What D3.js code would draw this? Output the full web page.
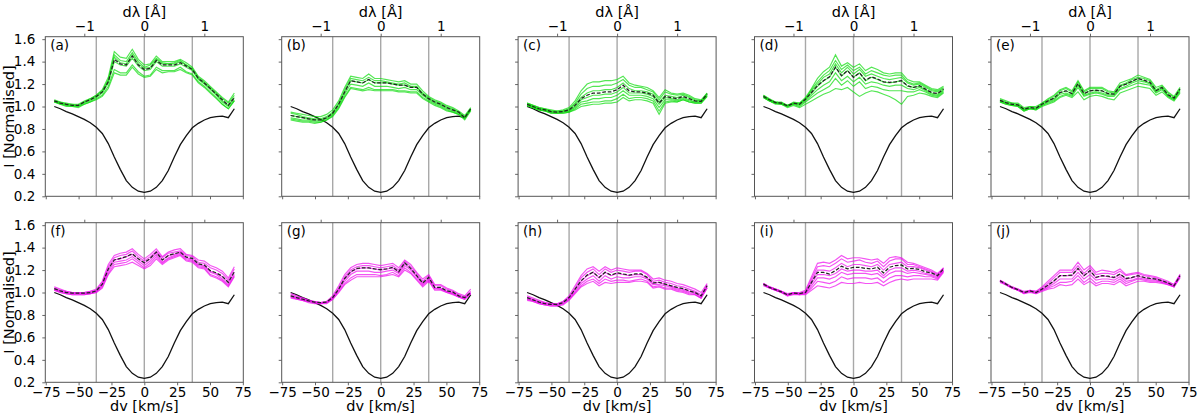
<!DOCTYPE html>
<html>
<head>
<meta charset="utf-8">
<script src="https://cdn.jsdelivr.net/npm/d3@7"></script>
<style>
  body { margin: 0; background: #fff; }
  svg text { font-family: "DejaVu Sans", sans-serif; fill: #000; }
</style>
</head>
<body>
<svg id="chart" width="1200" height="419"></svg>
<script>
// wavelength offsets of the sampled points [A] and conversion to km/s (H-alpha)
var dlam = [-1.5,-1.4,-1.3,-1.2,-1.1,-1.0,-0.9,-0.8,-0.7,-0.6,-0.5,-0.4,-0.3,-0.2,-0.1,0,
            0.1,0.2,0.3,0.4,0.5,0.6,0.7,0.8,0.9,1.0,1.1,1.2,1.3,1.4,1.5];
var kmsPerA = 45.68;
var markLines = [-0.8, 0, 0.8];   // vertical reference lines [A]

// quiet-sun reference profile (black)
var refProfile = [1.00,0.98,0.955,0.935,0.91,0.885,0.855,0.815,0.76,0.67,0.55,0.44,0.34,0.28,0.245,0.235,
                  0.245,0.28,0.34,0.43,0.55,0.66,0.74,0.81,0.85,0.88,0.90,0.91,0.915,0.90,0.98];

// (a)
var meanA = [1.05,1.03,1.02,1.01,1.01,1.04,1.06,1.09,1.13,1.22,1.42,1.38,1.37,1.45,1.37,1.33,1.34,1.41,1.37,1.37,1.37,1.39,1.36,1.33,1.25,1.21,1.16,1.11,1.06,1.01,1.08];
var membersA = [
  [1.06,1.04,1.03,1.02,1.02,1.05,1.07,1.10,1.15,1.26,1.49,1.44,1.43,1.51,1.42,1.37,1.38,1.45,1.40,1.40,1.40,1.42,1.39,1.35,1.27,1.23,1.18,1.13,1.08,1.04,1.12],
  [1.05,1.04,1.02,1.02,1.01,1.04,1.07,1.10,1.14,1.24,1.46,1.41,1.40,1.48,1.40,1.35,1.37,1.43,1.39,1.38,1.39,1.41,1.37,1.34,1.26,1.22,1.17,1.12,1.07,1.03,1.10],
  [1.05,1.03,1.02,1.01,1.01,1.04,1.06,1.09,1.13,1.23,1.44,1.39,1.38,1.46,1.38,1.34,1.35,1.42,1.38,1.38,1.38,1.40,1.37,1.33,1.25,1.21,1.16,1.11,1.05,1.01,1.08],
  [1.04,1.03,1.01,1.01,1.00,1.03,1.05,1.08,1.12,1.21,1.40,1.37,1.36,1.43,1.36,1.32,1.33,1.40,1.36,1.36,1.36,1.38,1.35,1.32,1.24,1.20,1.15,1.10,1.04,1.00,1.06],
  [1.04,1.02,1.01,1.00,1.00,1.02,1.04,1.07,1.10,1.18,1.33,1.30,1.30,1.37,1.31,1.27,1.28,1.35,1.32,1.32,1.32,1.35,1.31,1.29,1.22,1.18,1.13,1.08,1.02,0.98,1.05],
  [1.04,1.02,1.00,1.00,0.99,1.02,1.04,1.06,1.09,1.16,1.30,1.28,1.28,1.35,1.29,1.26,1.27,1.33,1.30,1.31,1.31,1.33,1.30,1.28,1.21,1.17,1.12,1.07,1.02,0.98,1.05]
];

// (b)
var meanB = [0.92,0.91,0.90,0.89,0.88,0.88,0.90,0.94,1.02,1.13,1.23,1.22,1.21,1.24,1.21,1.21,1.21,1.20,1.19,1.19,1.17,1.17,1.11,1.07,1.04,1.02,0.99,0.97,0.95,0.90,0.98];
var membersB = [
  [0.95,0.94,0.93,0.92,0.91,0.91,0.93,0.97,1.05,1.17,1.27,1.26,1.25,1.29,1.25,1.25,1.24,1.23,1.22,1.23,1.20,1.20,1.14,1.09,1.06,1.04,1.01,0.99,0.96,0.92,0.99],
  [0.94,0.93,0.91,0.90,0.89,0.89,0.91,0.95,1.03,1.15,1.25,1.24,1.23,1.26,1.23,1.23,1.22,1.21,1.20,1.21,1.18,1.18,1.12,1.08,1.05,1.03,1.00,0.98,0.95,0.91,0.98],
  [0.92,0.91,0.90,0.89,0.88,0.88,0.90,0.94,1.02,1.13,1.23,1.22,1.21,1.24,1.21,1.21,1.21,1.20,1.19,1.19,1.17,1.17,1.11,1.07,1.04,1.02,0.99,0.97,0.95,0.90,0.98],
  [0.90,0.89,0.88,0.88,0.87,0.87,0.89,0.93,1.00,1.11,1.20,1.19,1.18,1.21,1.18,1.18,1.18,1.17,1.16,1.17,1.15,1.15,1.10,1.06,1.03,1.01,0.98,0.96,0.94,0.90,0.97],
  [0.89,0.88,0.87,0.87,0.86,0.86,0.88,0.92,0.99,1.09,1.17,1.16,1.15,1.17,1.15,1.15,1.15,1.15,1.14,1.14,1.13,1.13,1.08,1.05,1.02,1.00,0.97,0.95,0.93,0.89,0.97],
  [0.88,0.87,0.86,0.86,0.85,0.86,0.88,0.91,0.98,1.08,1.16,1.15,1.14,1.15,1.14,1.14,1.14,1.14,1.13,1.13,1.12,1.12,1.07,1.04,1.01,0.99,0.96,0.95,0.93,0.88,0.96]
];

// (c)
var meanC = [1.02,1.00,0.98,0.97,0.955,0.95,0.955,0.97,1.01,1.07,1.10,1.12,1.12,1.13,1.13,1.15,1.19,1.14,1.13,1.13,1.12,1.10,1.03,1.09,1.08,1.07,1.09,1.07,1.05,1.045,1.11];
var membersC = [
  [1.03,1.01,0.99,0.98,0.97,0.96,0.97,0.99,1.05,1.14,1.20,1.22,1.22,1.23,1.23,1.24,1.27,1.21,1.19,1.18,1.17,1.14,1.08,1.15,1.12,1.11,1.12,1.10,1.07,1.06,1.12],
  [1.03,1.01,0.99,0.98,0.96,0.96,0.96,0.98,1.03,1.11,1.16,1.18,1.18,1.19,1.19,1.21,1.24,1.19,1.17,1.17,1.15,1.13,1.06,1.13,1.11,1.10,1.11,1.09,1.06,1.05,1.12],
  [1.02,1.00,0.98,0.97,0.96,0.95,0.96,0.97,1.02,1.08,1.12,1.14,1.14,1.15,1.15,1.17,1.21,1.16,1.14,1.14,1.13,1.11,1.04,1.10,1.09,1.08,1.10,1.08,1.05,1.05,1.11],
  [1.02,1.00,0.98,0.97,0.95,0.95,0.95,0.96,1.00,1.06,1.08,1.10,1.10,1.11,1.11,1.13,1.17,1.12,1.12,1.12,1.11,1.09,1.02,1.08,1.07,1.06,1.08,1.06,1.04,1.04,1.10],
  [1.01,0.99,0.97,0.96,0.95,0.94,0.95,0.96,0.99,1.04,1.05,1.07,1.07,1.08,1.08,1.10,1.14,1.10,1.10,1.10,1.09,1.07,0.99,1.06,1.06,1.05,1.07,1.05,1.04,1.04,1.10],
  [1.01,0.99,0.97,0.96,0.94,0.94,0.94,0.95,0.98,1.02,1.03,1.04,1.04,1.05,1.05,1.07,1.11,1.07,1.08,1.08,1.07,1.05,0.96,1.04,1.05,1.04,1.06,1.04,1.03,1.03,1.09],
  [1.01,0.99,0.97,0.96,0.94,0.94,0.94,0.95,0.97,1.00,1.01,1.02,1.02,1.03,1.03,1.04,1.08,1.05,1.06,1.06,1.05,1.03,0.93,1.03,1.04,1.04,1.06,1.04,1.03,1.03,1.09]
];

// (d)
var meanD = [1.09,1.06,1.035,1.03,1.005,1.03,1.02,1.065,1.125,1.185,1.23,1.265,1.35,1.275,1.32,1.26,1.30,1.235,1.265,1.245,1.22,1.215,1.22,1.23,1.185,1.17,1.185,1.155,1.125,1.115,1.155];
var membersD = [
  [1.10,1.07,1.04,1.04,1.01,1.04,1.03,1.08,1.16,1.25,1.31,1.35,1.46,1.36,1.39,1.35,1.38,1.32,1.35,1.33,1.30,1.29,1.30,1.30,1.24,1.22,1.22,1.19,1.16,1.15,1.18],
  [1.10,1.06,1.04,1.03,1.01,1.03,1.03,1.07,1.15,1.22,1.28,1.32,1.41,1.33,1.37,1.32,1.35,1.29,1.32,1.30,1.28,1.27,1.28,1.28,1.22,1.20,1.21,1.18,1.15,1.14,1.17],
  [1.09,1.06,1.04,1.03,1.01,1.03,1.02,1.07,1.14,1.20,1.26,1.29,1.38,1.30,1.35,1.29,1.33,1.27,1.29,1.27,1.25,1.24,1.25,1.26,1.21,1.19,1.20,1.17,1.14,1.13,1.16],
  [1.09,1.06,1.03,1.03,1.00,1.03,1.02,1.06,1.12,1.18,1.23,1.26,1.35,1.27,1.32,1.26,1.30,1.23,1.26,1.24,1.22,1.21,1.22,1.23,1.18,1.17,1.18,1.15,1.12,1.11,1.15],
  [1.08,1.05,1.03,1.02,1.00,1.02,1.01,1.05,1.10,1.15,1.19,1.22,1.30,1.23,1.27,1.22,1.26,1.20,1.22,1.21,1.19,1.18,1.19,1.19,1.16,1.15,1.17,1.14,1.11,1.10,1.14],
  [1.08,1.05,1.03,1.02,1.00,1.02,1.00,1.04,1.08,1.12,1.15,1.18,1.25,1.19,1.23,1.18,1.22,1.16,1.18,1.17,1.15,1.14,1.14,1.14,1.13,1.13,1.15,1.13,1.10,1.09,1.13],
  [1.08,1.05,1.02,1.02,0.99,1.01,0.99,1.02,1.05,1.08,1.11,1.13,1.16,1.15,1.17,1.13,1.09,1.12,1.14,1.13,1.11,1.09,1.06,1.02,1.09,1.10,1.12,1.11,1.09,1.08,1.12]
];

// (e)
var meanE = [1.055,1.035,1.02,1.015,0.975,0.99,0.985,1.02,1.05,1.075,1.125,1.14,1.115,1.205,1.115,1.14,1.145,1.14,1.115,1.11,1.18,1.20,1.225,1.25,1.235,1.215,1.14,1.17,1.105,1.075,1.155];
var membersE = [
  [1.07,1.05,1.03,1.03,0.99,1.00,1.00,1.03,1.07,1.10,1.15,1.17,1.14,1.23,1.14,1.17,1.17,1.17,1.14,1.13,1.21,1.23,1.25,1.28,1.26,1.24,1.17,1.19,1.13,1.09,1.17],
  [1.06,1.04,1.03,1.02,0.98,1.00,0.99,1.03,1.06,1.09,1.14,1.16,1.13,1.22,1.13,1.16,1.16,1.16,1.13,1.12,1.19,1.21,1.24,1.26,1.25,1.23,1.15,1.18,1.12,1.08,1.16],
  [1.05,1.03,1.02,1.01,0.97,0.99,0.98,1.02,1.05,1.07,1.12,1.14,1.11,1.20,1.11,1.14,1.14,1.14,1.11,1.11,1.18,1.20,1.22,1.25,1.23,1.21,1.14,1.17,1.10,1.07,1.15],
  [1.05,1.03,1.01,1.01,0.97,0.98,0.98,1.01,1.04,1.06,1.11,1.12,1.10,1.19,1.10,1.12,1.13,1.12,1.10,1.10,1.16,1.18,1.21,1.23,1.22,1.20,1.13,1.16,1.09,1.06,1.14],
  [1.04,1.02,1.01,1.00,0.96,0.98,0.97,1.01,1.03,1.05,1.09,1.11,1.09,1.17,1.09,1.11,1.12,1.11,1.09,1.09,1.15,1.17,1.19,1.21,1.20,1.19,1.12,1.15,1.09,1.06,1.13],
  [1.04,1.02,1.01,1.00,0.96,0.98,0.97,1.00,1.02,1.04,1.08,1.10,1.08,1.13,1.06,1.09,1.10,1.09,1.07,1.06,1.12,1.14,1.16,1.18,1.17,1.16,1.10,1.13,1.08,1.05,1.12]
];

// (f)
var meanF = [1.035,1.015,1.00,0.995,0.995,0.995,1.00,1.015,1.075,1.21,1.29,1.305,1.32,1.345,1.30,1.265,1.305,1.36,1.29,1.33,1.345,1.36,1.315,1.305,1.255,1.245,1.195,1.175,1.145,1.09,1.185];
var membersF = [
  [1.05,1.03,1.01,1.00,1.00,1.00,1.01,1.03,1.10,1.25,1.33,1.35,1.36,1.39,1.34,1.30,1.34,1.39,1.32,1.36,1.38,1.39,1.34,1.33,1.29,1.28,1.24,1.22,1.19,1.13,1.23],
  [1.04,1.02,1.01,1.00,1.00,1.00,1.01,1.02,1.09,1.23,1.31,1.33,1.34,1.37,1.32,1.28,1.32,1.37,1.31,1.35,1.36,1.37,1.33,1.32,1.27,1.26,1.22,1.20,1.17,1.11,1.21],
  [1.03,1.01,1.00,0.99,0.99,0.99,1.00,1.01,1.07,1.21,1.29,1.30,1.32,1.34,1.30,1.26,1.30,1.36,1.29,1.33,1.34,1.36,1.31,1.30,1.25,1.24,1.19,1.17,1.14,1.09,1.18],
  [1.03,1.01,1.00,0.99,0.99,0.99,0.99,1.01,1.06,1.19,1.27,1.28,1.29,1.32,1.28,1.24,1.28,1.34,1.27,1.31,1.33,1.35,1.30,1.29,1.24,1.23,1.18,1.16,1.12,1.07,1.16],
  [1.02,1.00,0.99,0.98,0.98,0.98,0.99,1.00,1.05,1.17,1.25,1.26,1.27,1.30,1.26,1.22,1.26,1.32,1.26,1.30,1.32,1.34,1.29,1.28,1.23,1.22,1.16,1.14,1.11,1.06,1.15],
  [1.02,1.00,0.99,0.98,0.98,0.98,0.99,1.00,1.04,1.16,1.23,1.24,1.25,1.27,1.24,1.21,1.24,1.30,1.25,1.29,1.31,1.33,1.28,1.27,1.22,1.21,1.15,1.13,1.10,1.05,1.14]
];

// (g)
var meanG = [0.97,0.955,0.94,0.925,0.915,0.91,0.915,0.955,1.03,1.125,1.185,1.215,1.22,1.22,1.21,1.205,1.21,1.225,1.185,1.265,1.215,1.15,1.085,1.135,1.045,1.045,1.015,1.005,0.97,0.955,1.00];
var membersG = [
  [0.99,0.97,0.95,0.93,0.92,0.91,0.92,0.97,1.06,1.16,1.22,1.25,1.26,1.26,1.25,1.24,1.25,1.26,1.22,1.29,1.25,1.18,1.12,1.16,1.07,1.07,1.04,1.02,0.99,0.97,1.03],
  [0.98,0.96,0.95,0.93,0.92,0.91,0.92,0.96,1.04,1.14,1.20,1.23,1.24,1.24,1.23,1.22,1.23,1.24,1.20,1.28,1.23,1.17,1.10,1.15,1.06,1.06,1.03,1.01,0.98,0.96,1.01],
  [0.97,0.95,0.94,0.92,0.91,0.91,0.91,0.95,1.03,1.12,1.18,1.21,1.22,1.22,1.21,1.20,1.21,1.22,1.18,1.26,1.21,1.15,1.08,1.13,1.04,1.04,1.01,1.00,0.97,0.95,1.00],
  [0.96,0.95,0.93,0.92,0.91,0.90,0.91,0.95,1.02,1.10,1.16,1.19,1.19,1.19,1.18,1.18,1.19,1.20,1.17,1.24,1.20,1.14,1.07,1.12,1.04,1.03,1.01,0.99,0.96,0.95,0.99],
  [0.96,0.94,0.93,0.92,0.91,0.90,0.91,0.94,1.01,1.08,1.13,1.16,1.16,1.16,1.16,1.15,1.16,1.18,1.15,1.22,1.18,1.12,1.06,1.11,1.03,1.03,1.00,0.99,0.96,0.94,0.99],
  [0.95,0.94,0.93,0.91,0.90,0.90,0.90,0.94,1.00,1.07,1.11,1.14,1.14,1.14,1.14,1.14,1.15,1.16,1.14,1.20,1.17,1.11,1.05,1.10,1.02,1.02,1.00,0.98,0.96,0.94,0.99]
];

// (h)
var meanH = [0.955,0.935,0.915,0.90,0.895,0.895,0.91,0.955,1.03,1.105,1.155,1.18,1.135,1.18,1.155,1.175,1.165,1.155,1.165,1.165,1.135,1.085,1.09,1.075,1.06,1.045,1.035,1.015,1.00,0.97,1.06];
var membersH = [
  [0.97,0.95,0.93,0.91,0.90,0.90,0.92,0.97,1.06,1.15,1.21,1.23,1.19,1.23,1.20,1.22,1.21,1.20,1.20,1.20,1.17,1.12,1.13,1.11,1.10,1.08,1.07,1.05,1.03,1.00,1.08],
  [0.96,0.94,0.92,0.91,0.90,0.90,0.92,0.96,1.04,1.13,1.18,1.21,1.16,1.21,1.18,1.20,1.19,1.18,1.19,1.19,1.16,1.10,1.11,1.09,1.08,1.06,1.05,1.03,1.01,0.98,1.07],
  [0.95,0.93,0.91,0.90,0.89,0.89,0.91,0.95,1.03,1.10,1.15,1.18,1.13,1.18,1.15,1.17,1.16,1.15,1.16,1.16,1.13,1.08,1.09,1.07,1.06,1.04,1.03,1.01,1.00,0.97,1.06],
  [0.94,0.93,0.91,0.90,0.89,0.89,0.90,0.94,1.01,1.08,1.12,1.15,1.10,1.15,1.12,1.14,1.13,1.13,1.14,1.14,1.12,1.07,1.07,1.06,1.05,1.03,1.02,1.00,0.99,0.96,1.05],
  [0.94,0.92,0.90,0.89,0.88,0.88,0.90,0.94,1.00,1.06,1.10,1.12,1.08,1.12,1.10,1.11,1.11,1.10,1.11,1.12,1.10,1.05,1.06,1.04,1.04,1.02,1.01,0.99,0.98,0.95,1.04],
  [0.93,0.92,0.90,0.89,0.88,0.88,0.89,0.93,0.99,1.05,1.08,1.10,1.06,1.09,1.08,1.09,1.09,1.09,1.10,1.10,1.09,1.04,1.05,1.03,1.03,1.01,1.00,0.98,0.98,0.95,1.04]
];

// (i)
var meanI = [1.075,1.045,1.025,1.005,0.98,0.995,0.99,1.00,1.09,1.18,1.18,1.165,1.195,1.235,1.21,1.225,1.225,1.215,1.21,1.225,1.175,1.225,1.24,1.245,1.21,1.215,1.205,1.185,1.175,1.15,1.21];
var membersI = [
  [1.08,1.05,1.03,1.01,0.99,1.00,1.00,1.02,1.14,1.26,1.27,1.26,1.29,1.33,1.30,1.31,1.31,1.30,1.29,1.30,1.26,1.31,1.32,1.31,1.27,1.26,1.24,1.22,1.20,1.17,1.22],
  [1.08,1.05,1.03,1.01,0.98,1.00,0.99,1.01,1.12,1.23,1.24,1.23,1.26,1.30,1.27,1.28,1.29,1.27,1.26,1.28,1.23,1.28,1.30,1.30,1.25,1.25,1.23,1.21,1.19,1.16,1.22],
  [1.08,1.05,1.03,1.01,0.98,1.00,0.99,1.00,1.10,1.20,1.20,1.19,1.22,1.26,1.23,1.25,1.25,1.24,1.23,1.25,1.20,1.25,1.26,1.27,1.23,1.23,1.22,1.20,1.18,1.15,1.21],
  [1.07,1.04,1.02,1.00,0.98,0.99,0.99,1.00,1.08,1.16,1.16,1.15,1.17,1.21,1.19,1.20,1.20,1.19,1.19,1.20,1.15,1.20,1.22,1.22,1.19,1.20,1.19,1.17,1.16,1.14,1.20],
  [1.07,1.04,1.02,1.00,0.98,0.99,0.98,0.99,1.06,1.13,1.13,1.12,1.14,1.18,1.16,1.17,1.17,1.17,1.16,1.17,1.13,1.17,1.19,1.19,1.17,1.18,1.17,1.16,1.15,1.13,1.19],
  [1.07,1.04,1.02,1.00,0.97,0.99,0.98,0.99,1.04,1.10,1.09,1.08,1.10,1.14,1.12,1.13,1.13,1.13,1.12,1.13,1.09,1.13,1.15,1.15,1.14,1.15,1.15,1.14,1.14,1.12,1.19],
  [1.06,1.04,1.02,1.00,0.97,0.98,0.98,0.98,1.02,1.06,1.05,1.04,1.06,1.09,1.08,1.08,1.09,1.08,1.08,1.09,1.06,1.09,1.11,1.12,1.11,1.12,1.12,1.12,1.12,1.11,1.18]
];

// (j)
var meanJ = [1.105,1.075,1.045,1.025,1.00,1.015,1.00,1.03,1.065,1.105,1.15,1.15,1.155,1.215,1.15,1.195,1.135,1.15,1.145,1.135,1.165,1.125,1.135,1.15,1.135,1.125,1.12,1.105,1.085,1.06,1.15];
var membersJ = [
  [1.11,1.08,1.05,1.03,1.01,1.02,1.01,1.05,1.10,1.15,1.20,1.20,1.20,1.27,1.20,1.24,1.18,1.20,1.19,1.18,1.21,1.16,1.17,1.18,1.16,1.15,1.14,1.12,1.10,1.07,1.16],
  [1.11,1.08,1.05,1.03,1.00,1.02,1.01,1.04,1.08,1.13,1.18,1.18,1.18,1.24,1.17,1.22,1.16,1.17,1.17,1.16,1.19,1.15,1.16,1.17,1.15,1.14,1.13,1.11,1.09,1.07,1.16],
  [1.10,1.07,1.04,1.02,1.00,1.01,1.00,1.03,1.06,1.10,1.15,1.15,1.15,1.21,1.15,1.19,1.13,1.15,1.14,1.13,1.16,1.12,1.13,1.15,1.13,1.12,1.12,1.10,1.08,1.06,1.15],
  [1.10,1.07,1.04,1.02,1.00,1.01,1.00,1.02,1.05,1.08,1.12,1.12,1.12,1.18,1.12,1.16,1.11,1.12,1.12,1.11,1.14,1.10,1.11,1.13,1.12,1.11,1.11,1.09,1.08,1.05,1.14],
  [1.10,1.07,1.04,1.02,0.99,1.01,0.99,1.02,1.04,1.06,1.09,1.09,1.10,1.15,1.09,1.13,1.08,1.10,1.10,1.09,1.12,1.08,1.10,1.12,1.11,1.10,1.10,1.09,1.07,1.05,1.14],
  [1.09,1.07,1.04,1.02,0.99,1.00,0.99,1.01,1.03,1.04,1.07,1.06,1.07,1.12,1.07,1.10,1.06,1.08,1.08,1.07,1.10,1.06,1.08,1.10,1.10,1.09,1.09,1.08,1.07,1.05,1.13]
];

var labels = ["(a)","(b)","(c)","(d)","(e)","(f)","(g)","(h)","(i)","(j)"];
var xTicks = [-75,-50,-25,0,25,50,75];
var yTicks = [0.2,0.4,0.6,0.8,1.0,1.2,1.4,1.6];
var topTicks = [-1,0,1];

var green = "#11dd11", magenta = "#ee11ee";

// panel table built from the arrays above
var panels = [
  {mean: meanA, members: membersA, color: green},
  {mean: meanB, members: membersB, color: green},
  {mean: meanC, members: membersC, color: green},
  {mean: meanD, members: membersD, color: green},
  {mean: meanE, members: membersE, color: green},
  {mean: meanF, members: membersF, color: magenta},
  {mean: meanG, members: membersG, color: magenta},
  {mean: meanH, members: membersH, color: magenta},
  {mean: meanI, members: membersI, color: magenta},
  {mean: meanJ, members: membersJ, color: magenta}
];

var dv = dlam.map(function(d) { return d * kmsPerA; });

var width = 198, height = 159.6;
var lefts = [45.3, 281.7, 518.1, 754.5, 991];
var tops = [36.7, 222.7];
var xMax = 75.35;   // axis half-range in km/s

var x = d3.scaleLinear().domain([-xMax, xMax]).range([0, width]);
var xTop = d3.scaleLinear().domain([-xMax / kmsPerA, xMax / kmsPerA]).range([0, width]);
var y = d3.scaleLinear().domain([0.2, 1.622]).range([height, 0]);

var line = d3.line()
  .x(function(d) { return x(d[0]); })
  .y(function(d) { return y(d[1]); });

function pairs(vals) {
  return vals.map(function(v, i) { return [dv[i], v]; });
}

var svg = d3.select("#chart");

panels.forEach(function(p, k) {
  var row = Math.floor(k / 5), col = k % 5;
  var g = svg.append("g")
    .attr("transform", "translate(" + lefts[col] + "," + tops[row] + ")");

  // vertical reference lines
  g.selectAll(".vline")
    .data(markLines)
    .enter().append("line")
    .attr("class", "vline")
    .attr("x1", function(d) { return x(d * kmsPerA); })
    .attr("x2", function(d) { return x(d * kmsPerA); })
    .attr("y1", 0)
    .attr("y2", height)
    .style("stroke", "#a8a8a8")
    .style("stroke-width", 1.4);

  // reference profile
  g.append("path")
    .attr("d", line(pairs(refProfile)))
    .style("fill", "none")
    .style("stroke", "#111")
    .style("stroke-width", 1.3);

  // individual profiles
  g.selectAll(".member")
    .data(p.members)
    .enter().append("path")
    .attr("class", "member")
    .attr("d", function(d) { return line(pairs(d)); })
    .style("fill", "none")
    .style("stroke", p.color)
    .style("stroke-opacity", 0.72)
    .style("stroke-width", 1.15);

  // mean profile
  g.append("path")
    .attr("d", line(pairs(p.mean)))
    .style("fill", "none")
    .style("stroke", "#222")
    .style("stroke-width", 1.25)
    .style("stroke-dasharray", "3.7,1.8");

  // bottom axis
  var xAxis = d3.axisBottom(x).tickValues(xTicks).tickSize(3).tickSizeOuter(0).tickPadding(2.5)
    .tickFormat(row === 1 ? d3.format("d") : "");
  var gx = g.append("g").attr("transform", "translate(0," + height + ")").call(xAxis);

  // top axis in wavelength
  var topAxis = d3.axisTop(xTop).tickValues(topTicks).tickSize(3).tickSizeOuter(0).tickPadding(2.5)
    .tickFormat(row === 0 ? d3.format("d") : "");
  var gt = g.append("g").call(topAxis);

  // left axis
  var yAxis = d3.axisLeft(y).tickValues(yTicks).tickSize(3).tickSizeOuter(0).tickPadding(7)
    .tickFormat(col === 0 ? d3.format(".1f") : "");
  var gy = g.append("g").call(yAxis);

  [gx, gt, gy].forEach(function(a) {
    a.select(".domain").remove();
    a.attr("font-family", null).attr("font-size", null);
    a.selectAll("line").style("stroke", "#555").style("stroke-width", 0.9);
    a.selectAll("text").style("font-size", "13.5px");
  });

  // frame
  g.append("rect")
    .attr("width", width)
    .attr("height", height)
    .style("fill", "none")
    .style("stroke", "#555")
    .style("stroke-width", 1);

  // panel label
  g.append("text")
    .attr("x", 5)
    .attr("y", 13)
    .style("font-size", "13.5px")
    .text(labels[k]);

  if (row === 0) {
    g.append("text")
      .attr("x", width / 2)
      .attr("y", -20)
      .attr("text-anchor", "middle")
      .style("font-size", "14.5px")
      .text("dλ [Å]");
  } else {
    g.append("text")
      .attr("x", width / 2)
      .attr("y", height + 29)
      .attr("text-anchor", "middle")
      .style("font-size", "14.5px")
      .text("dv [km/s]");
  }

  if (col === 0) {
    g.append("text")
      .attr("transform", "translate(" + (-lefts[0] + 13.5) + "," + (height / 2) + ") rotate(-90)")
      .attr("text-anchor", "middle")
      .style("font-size", "14.5px")
      .text("I [Normalised]");
  }
});
</script>
</body>
</html>
